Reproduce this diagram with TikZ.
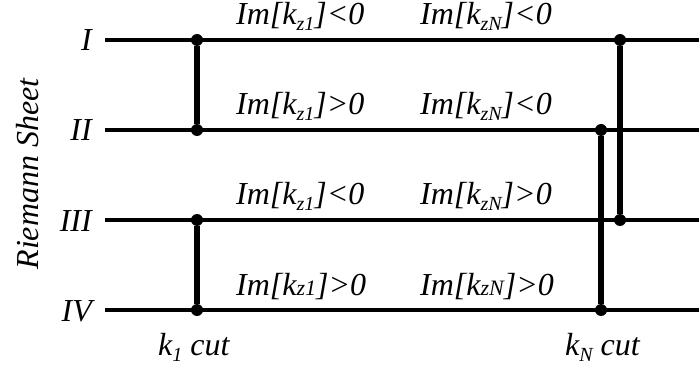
\documentclass[tikz,border=0pt]{standalone}
\usepackage{fontspec}
\setmainfont{Liberation Serif}
\begin{document}
\begin{tikzpicture}[x=1pt,y=1pt,
  sheet/.style={line width=3.5pt},
  cutline/.style={line width=5.5pt},
  dot/.style={circle,fill=black,inner sep=0pt,minimum size=12pt},
  lbl/.style={font=\fontsize{32}{34}\selectfont\itshape,inner sep=0pt},
  rn/.style={lbl,anchor=base east},
  im/.style={lbl,anchor=base west}]
\useasboundingbox (0,0) rectangle (699,370);
% sheet lines
\foreach \n/\y in {1/330,2/240,3/150,4/60}{
  \coordinate (L\n) at (105,\y);
  \coordinate (R\n) at (699,\y);
  \draw[sheet] (L\n) -- (R\n);
}
% roman numerals
\node[rn] (nI) at (92,319) {I};
\node[rn] (nII) at (92,229) {II};
\node[rn] (nIII) at (92,139) {III};
\node[rn] (nIV) at (92,49) {IV};
\node[lbl,rotate=90] (rs) at (28,196) {Riemann Sheet};
% cut k1
\node[dot] (a1) at (197,330) {};
\node[dot] (a2) at (197,240) {};
\node[dot] (b1) at (197,150) {};
\node[dot] (b2) at (197,60) {};
\draw[cutline] (a1) -- (a2);
\draw[cutline] (b1) -- (b2);
% cut kN
\node[dot] (c1) at (620,330) {};
\node[dot] (c2) at (620,150) {};
\node[dot] (d1) at (601,240) {};
\node[dot] (d2) at (601,60) {};
\draw[cutline] (c1) -- (c2);
\draw[cutline] (d1) -- (d2);
% labels
\newcommand{\sbs}[1]{\raisebox{-6pt}{\fontsize{20}{21}\selectfont #1}}
\newcommand{\sml}[1]{{\fontsize{22}{23}\selectfont #1}}
\node[im] (t1a) at (236,345) {Im[k\sbs{z1}]<0};
\node[im] (t1b) at (420,345) {Im[k\sbs{zN}]<0};
\node[im] (t2a) at (236,255) {Im[k\sbs{z1}]>0};
\node[im] (t2b) at (420,255) {Im[k\sbs{zN}]<0};
\node[im] (t3a) at (236,165) {Im[k\sbs{z1}]<0};
\node[im] (t3b) at (420,165) {Im[k\sbs{zN}]>0};
\node[im] (t4a) at (236,75) {Im[k\sml{z1}]>0};
\node[im] (t4b) at (420,75) {Im[k\sml{zN}]>0};
\node[im] (k1) at (158,15) {k\sbs{1} cut};
\node[im] (kN) at (565,15) {k\sbs{N} cut};
\end{tikzpicture}
\end{document}
